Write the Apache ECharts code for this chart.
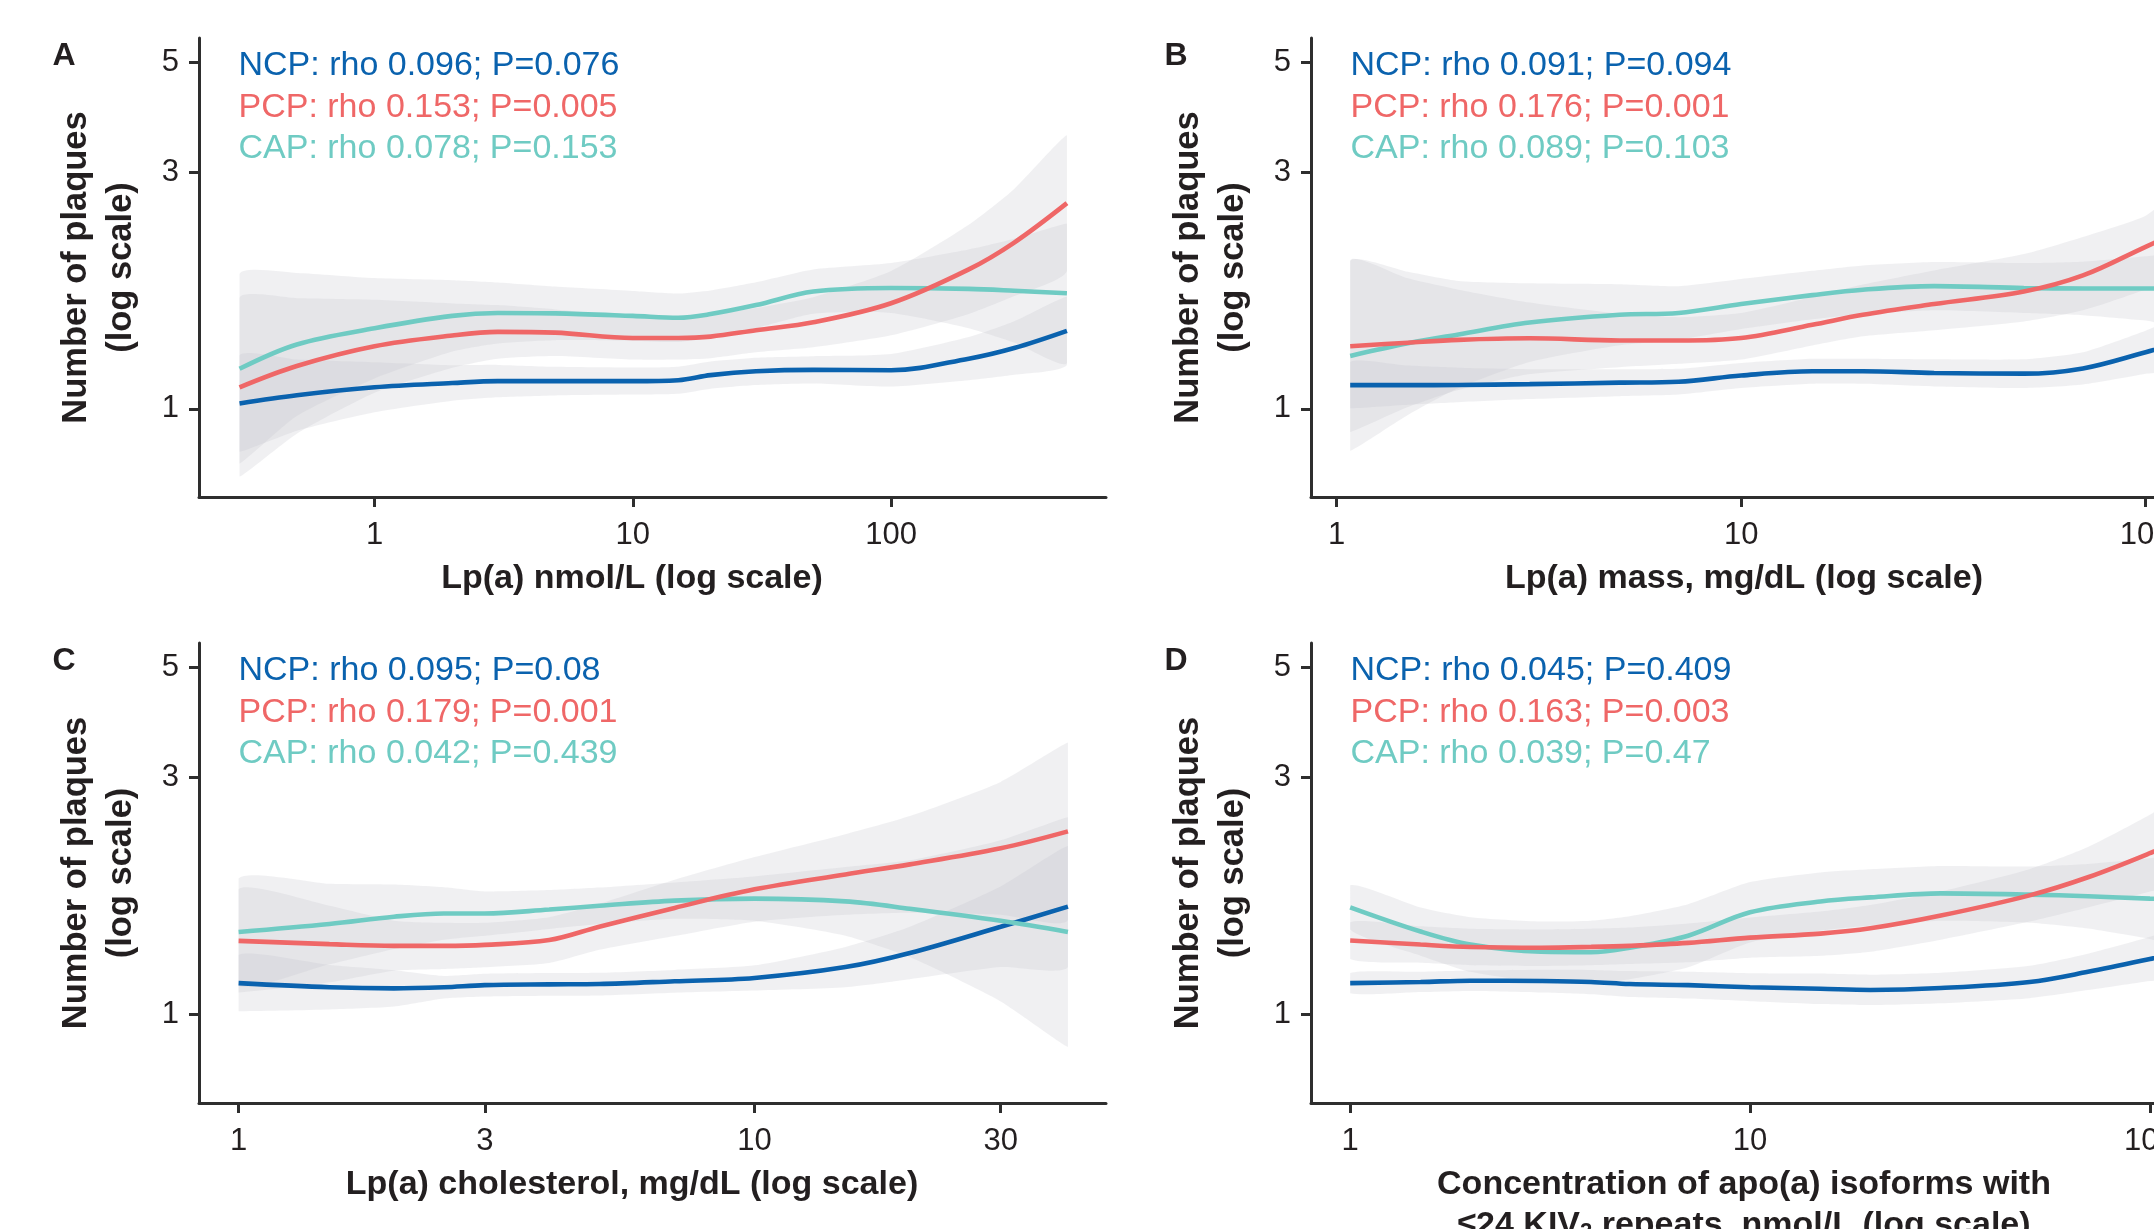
<!DOCTYPE html>
<html><head><meta charset="utf-8">
<script src="https://cdn.jsdelivr.net/npm/echarts@6/dist/echarts.min.js"></script>
<style>html,body{margin:0;padding:0;background:#fff}#c{width:2154px;height:1229px}</style>
</head><body><div id="c"></div>
<script>
// ---------- data ----------
const yTicks = [1, 3, 5];

// Panel A: Lp(a) nmol/L
const xA = [0.3, 0.5, 1, 2, 3, 5, 10, 15, 20, 30, 50, 100, 200, 300, 480];
const xTicksA = [1, 10, 100];
const ncpA   = [1.025, 1.065, 1.105, 1.127, 1.137, 1.137, 1.137, 1.142, 1.169, 1.19, 1.198, 1.196, 1.262, 1.326, 1.436];
const ncpLoA = [0.819, 0.903, 0.984, 1.038, 1.055, 1.064, 1.068, 1.072, 1.098, 1.117, 1.125, 1.109, 1.142, 1.171, 1.226];
const ncpHiA = [1.282, 1.257, 1.241, 1.224, 1.226, 1.215, 1.211, 1.216, 1.245, 1.267, 1.276, 1.289, 1.395, 1.501, 1.682];
const pcpA   = [1.105, 1.22, 1.337, 1.405, 1.429, 1.424, 1.389, 1.389, 1.398, 1.44, 1.494, 1.632, 1.91, 2.163, 2.597];
const pcpLoA = [0.730, 0.891, 1.077, 1.210, 1.262, 1.278, 1.257, 1.257, 1.265, 1.300, 1.330, 1.406, 1.553, 1.687, 1.896];
const pcpHiA = [1.673, 1.671, 1.659, 1.631, 1.618, 1.586, 1.535, 1.535, 1.545, 1.596, 1.678, 1.895, 2.349, 2.773, 3.558];
const capA   = [1.204, 1.348, 1.453, 1.539, 1.56, 1.557, 1.539, 1.526, 1.552, 1.618, 1.723, 1.752, 1.745, 1.73, 1.709];
const capLoA = [0.776, 0.967, 1.151, 1.304, 1.354, 1.375, 1.370, 1.364, 1.391, 1.455, 1.555, 1.560, 1.454, 1.360, 1.237];
const capHiA = [1.869, 1.879, 1.834, 1.816, 1.797, 1.763, 1.728, 1.708, 1.732, 1.799, 1.909, 1.967, 2.094, 2.201, 2.362];
const statsA = ['NCP: rho 0.096; P=0.076', 'PCP: rho 0.153; P=0.005', 'CAP: rho 0.078; P=0.153'];

// Panel B: Lp(a) mass, mg/dL
const xB = [1.08, 1.5, 2, 3, 5, 7, 10, 15, 20, 30, 50, 70, 100, 120];
const xTicksB = [1, 10, 100];
const ncpB   = [1.116, 1.116, 1.117, 1.121, 1.129, 1.134, 1.167, 1.19, 1.19, 1.181, 1.177, 1.206, 1.3, 1.355];
const ncpLoB = [1.002, 1.019, 1.031, 1.046, 1.060, 1.068, 1.101, 1.123, 1.123, 1.109, 1.101, 1.119, 1.176, 1.207];
const ncpHiB = [1.243, 1.222, 1.210, 1.202, 1.202, 1.204, 1.237, 1.261, 1.261, 1.258, 1.258, 1.300, 1.437, 1.522];
const pcpB   = [1.337, 1.359, 1.377, 1.387, 1.373, 1.373, 1.389, 1.477, 1.547, 1.626, 1.723, 1.857, 2.121, 2.266];
const pcpLoB = [0.898, 1.008, 1.091, 1.175, 1.213, 1.232, 1.257, 1.342, 1.400, 1.440, 1.500, 1.580, 1.740, 1.850];
const pcpHiB = [1.991, 1.832, 1.738, 1.637, 1.554, 1.530, 1.560, 1.680, 1.780, 1.900, 2.050, 2.220, 2.450, 2.750];
const capB   = [1.278, 1.355, 1.412, 1.492, 1.547, 1.56, 1.626, 1.695, 1.738, 1.767, 1.752, 1.748, 1.748, 1.748];
const capLoB = [0.823, 0.972, 1.101, 1.243, 1.343, 1.378, 1.448, 1.515, 1.553, 1.579, 1.560, 1.544, 1.506, 1.481];
const capHiB = [1.983, 1.889, 1.810, 1.790, 1.782, 1.766, 1.826, 1.897, 1.945, 1.977, 1.967, 1.979, 2.029, 2.063];
const statsB = ['NCP: rho 0.091; P=0.094', 'PCP: rho 0.176; P=0.001', 'CAP: rho 0.089; P=0.103'];

// Panel C: Lp(a) cholesterol, mg/dL
const xC = [1, 1.5, 2, 2.5, 3, 4, 5, 7, 10, 15, 20, 30, 40.5];
const xTicksC = [1, 3, 10, 30];
const ncpC   = [1.157, 1.135, 1.129, 1.135, 1.146, 1.15, 1.152, 1.167, 1.185, 1.246, 1.33, 1.502, 1.649];
const ncpLoC = [1.016, 1.024, 1.038, 1.077, 1.087, 1.091, 1.093, 1.107, 1.118, 1.135, 1.178, 1.246, 1.246];
const ncpHiC = [1.318, 1.258, 1.228, 1.196, 1.208, 1.212, 1.214, 1.230, 1.256, 1.368, 1.502, 1.810, 2.182];
const pcpC   = [1.407, 1.386, 1.375, 1.375, 1.381, 1.412, 1.502, 1.639, 1.786, 1.914, 2.005, 2.16, 2.336];
const pcpLoC = [1.108, 1.161, 1.225, 1.235, 1.245, 1.270, 1.350, 1.439, 1.538, 1.588, 1.603, 1.588, 1.550];
const pcpHiC = [1.787, 1.655, 1.545, 1.530, 1.530, 1.570, 1.670, 1.867, 2.074, 2.306, 2.508, 2.938, 3.520];
const capC   = [1.466, 1.521, 1.573, 1.597, 1.597, 1.627, 1.655, 1.695, 1.711, 1.689, 1.633, 1.544, 1.466];
const capLoC = [1.144, 1.262, 1.355, 1.415, 1.441, 1.487, 1.521, 1.558, 1.544, 1.441, 1.305, 1.063, 0.862];
const capHiC = [1.879, 1.833, 1.826, 1.803, 1.769, 1.780, 1.801, 1.844, 1.896, 1.980, 2.043, 2.242, 2.494];
const statsC = ['NCP: rho 0.095; P=0.08', 'PCP: rho 0.179; P=0.001', 'CAP: rho 0.042; P=0.439'];

// Panel D: apo(a) isoforms with <=24 KIV2 repeats, nmol/L
const xD = [1, 1.5, 2, 3, 4, 5, 7, 10, 15, 20, 30, 50, 70, 100, 120];
const xTicksD = [1, 10, 100];
const ncpD   = [1.157, 1.163, 1.17, 1.168, 1.163, 1.152, 1.146, 1.135, 1.127, 1.121, 1.131, 1.163, 1.219, 1.294, 1.338];
const ncpLoD = [1.104, 1.110, 1.116, 1.108, 1.099, 1.085, 1.077, 1.064, 1.050, 1.045, 1.054, 1.079, 1.120, 1.168, 1.191];
const ncpHiD = [1.213, 1.219, 1.226, 1.231, 1.230, 1.223, 1.219, 1.211, 1.209, 1.203, 1.214, 1.254, 1.326, 1.434, 1.503];
const pcpD   = [1.409, 1.383, 1.368, 1.363, 1.368, 1.375, 1.394, 1.428, 1.455, 1.491, 1.582, 1.737, 1.889, 2.112, 2.255];
const pcpLoD = [1.295, 1.271, 1.257, 1.253, 1.257, 1.264, 1.274, 1.301, 1.313, 1.338, 1.415, 1.539, 1.643, 1.769, 1.836];
const pcpHiD = [1.533, 1.505, 1.488, 1.483, 1.488, 1.496, 1.525, 1.568, 1.612, 1.661, 1.769, 1.961, 2.172, 2.522, 2.769];
const capD   = [1.643, 1.469, 1.383, 1.338, 1.335, 1.363, 1.441, 1.606, 1.689, 1.721, 1.753, 1.743, 1.73, 1.711, 1.705];
const capLoD = [1.483, 1.314, 1.219, 1.163, 1.154, 1.178, 1.245, 1.397, 1.476, 1.511, 1.544, 1.530, 1.490, 1.420, 1.376];
const capHiD = [1.820, 1.642, 1.570, 1.539, 1.545, 1.577, 1.667, 1.847, 1.932, 1.960, 1.990, 1.985, 2.009, 2.062, 2.112];
const statsD = ['NCP: rho 0.045; P=0.409', 'PCP: rho 0.163; P=0.003', 'CAP: rho 0.039; P=0.47'];

// ---------- style ----------
const COL = { ncp: '#0a62ae', pcp: '#ef6767', cap: '#6fcbc3' };
const BAND = 'rgba(196,196,206,0.26)';
const INK = '#231f20';
const AXIS = '#2e2e2e';
const FONT = '"Liberation Sans", Arial, sans-serif';

const panels = [
  { letter: 'A', left: 199, top: 38, xMin: 0.209, xMax: 680, x: xA, xTicks: xTicksA,
    ncp: ncpA, ncpLo: ncpLoA, ncpHi: ncpHiA, pcp: pcpA, pcpLo: pcpLoA, pcpHi: pcpHiA,
    cap: capA, capLo: capLoA, capHi: capHiA, stats: statsA, title: ['Lp(a) nmol/L (log scale)'] },
  { letter: 'B', left: 1311, top: 38, xMin: 0.864, xMax: 151, x: xB, xTicks: xTicksB,
    ncp: ncpB, ncpLo: ncpLoB, ncpHi: ncpHiB, pcp: pcpB, pcpLo: pcpLoB, pcpHi: pcpHiB,
    cap: capB, capLo: capLoB, capHi: capHiB, stats: statsB, title: ['Lp(a) mass, mg/dL (log scale)'] },
  { letter: 'C', left: 199, top: 643, xMin: 0.838, xMax: 48, x: xC, xTicks: xTicksC,
    ncp: ncpC, ncpLo: ncpLoC, ncpHi: ncpHiC, pcp: pcpC, pcpLo: pcpLoC, pcpHi: pcpHiC,
    cap: capC, capLo: capLoC, capHi: capHiC, stats: statsC, title: ['Lp(a) cholesterol, mg/dL (log scale)'] },
  { letter: 'D', left: 1311, top: 643, xMin: 0.798, xMax: 148, x: xD, xTicks: xTicksD,
    ncp: ncpD, ncpLo: ncpLoD, ncpHi: ncpHiD, pcp: pcpD, pcpLo: pcpLoD, pcpHi: pcpHiD,
    cap: capD, capLo: capLoD, capHi: capHiD, stats: statsD,
    title: ['Concentration of apo(a) isoforms with', '{a|≤24 KIV}{s|2}{a| repeats, nmol/L (log scale)}'] }
];
const GW = 907;

const grids = [], xAxes = [], yAxes = [], series = [], graphics = [];
const pairs = (xs, ys) => xs.map((x, i) => [x, ys[i]]);
const triples = (xs, lo, hi) => xs.map((x, i) => [x, lo[i], hi[i]]);

// confidence band drawn as one smoothed polygon through the library's coordinate system
function renderBand(params, api) {
  if (params.dataIndexInside !== 0) return null;
  const n = params.dataInsideLength;
  const upper = [], lower = [];
  for (let j = 0; j < n; j++) {
    const xv = api.value(0, j);
    upper.push(api.coord([xv, api.value(2, j)]));
    lower.push(api.coord([xv, api.value(1, j)]));
  }
  const pts = upper.concat(lower.reverse());
  let x0 = Infinity, y0 = Infinity, x1 = -Infinity, y1 = -Infinity;
  pts.forEach(q => { x0 = Math.min(x0, q[0]); x1 = Math.max(x1, q[0]); y0 = Math.min(y0, q[1]); y1 = Math.max(y1, q[1]); });
  return { type: 'polygon',
    shape: { points: pts, smooth: 0.2, smoothConstraint: [[x0, y0], [x1, y1]] },
    style: { fill: BAND } };
}

panels.forEach((p, i) => {
  const gh = i < 2 ? 459 : 460;
  grids.push({ left: p.left, top: p.top, width: GW, height: gh, containLabel: false, outerBoundsMode: 'none' });
  xAxes.push({
    type: 'log', logBase: 10, gridIndex: i, min: p.xMin, max: p.xMax,
    axisLine: { show: true, onZero: false, lineStyle: { color: AXIS, width: 3 } },
    axisTick: { show: true, length: 10, lineStyle: { color: AXIS, width: 3 }, customValues: p.xTicks },
    axisLabel: { customValues: p.xTicks, fontSize: 31, color: INK, fontFamily: FONT, margin: 23 },
    splitLine: { show: false }, minorTick: { show: false }
  });
  yAxes.push({
    type: 'log', logBase: 10, gridIndex: i, min: 0.664, max: 5.59,
    axisLine: { show: true, onZero: false, lineStyle: { color: AXIS, width: 3 } },
    axisTick: { show: true, length: 10, lineStyle: { color: AXIS, width: 3 }, customValues: yTicks },
    axisLabel: { customValues: yTicks, fontSize: 31, color: INK, fontFamily: FONT, margin: 20, padding: [8, 0, 0, 0] },
    splitLine: { show: false },
    name: 'Number of plaques\n(log scale)', nameLocation: 'middle', nameRotate: 90, nameGap: 55,
    nameMoveOverlap: false,
    nameTextStyle: { fontSize: 34.5, fontWeight: 'bold', lineHeight: 45, color: INK, fontFamily: FONT, align: 'center' }
  });
  ['ncp', 'pcp', 'cap'].forEach(k => {
    series.push({ type: 'custom', xAxisIndex: i, yAxisIndex: i, renderItem: renderBand,
      data: triples(p.x, p[k + 'Lo'], p[k + 'Hi']), encode: { x: 0, y: [1, 2] },
      clip: true, silent: true, z: 1 });
  });
  ['ncp', 'cap', 'pcp'].forEach(k => {
    series.push({ type: 'line', name: k.toUpperCase(), xAxisIndex: i, yAxisIndex: i, symbol: 'none', smooth: 0.35,
      data: pairs(p.x, p[k]), lineStyle: { color: COL[k], width: 4.6 }, z: 3 });
  });
  // annotations
  const cols = [COL.ncp, COL.pcp, COL.cap];
  const dy = [28, 69.5, 111];
  p.stats.forEach((t, j) => {
    graphics.push({ type: 'text', x: p.left + 39.5, y: p.top + dy[j], z: 10,
      style: { text: t, fill: cols[j], font: '34px ' + FONT, align: 'left', verticalAlign: 'middle' } });
  });
  graphics.push({ type: 'text', x: p.left - 135, y: p.top + 18, z: 10,
    style: { text: p.letter, fill: INK, font: 'bold 32px ' + FONT, align: 'center', verticalAlign: 'middle' } });
  const axisY = p.top + gh;
  p.title.forEach((t, j) => {
    graphics.push({ type: 'text', x: p.left + 433, y: axisY + 82 + j * 41, z: 10,
      style: { text: t, fill: INK, font: 'bold 34px ' + FONT, align: 'center', verticalAlign: 'middle',
        rich: { a: { fontSize: 34, fontWeight: 'bold', fontFamily: FONT, fill: INK },
                s: { fontSize: 22, fontWeight: 'bold', fontFamily: FONT, fill: INK, verticalAlign: 'bottom', padding: [12, 0, 0, 0] } } } });
  });
});

const chart = echarts.init(document.getElementById('c'), null, { renderer: 'canvas' });
chart.setOption({
  animation: false,
  backgroundColor: '#ffffff',
  grid: grids, xAxis: xAxes, yAxis: yAxes, series: series,
  graphic: { elements: graphics }
});
</script></body></html>
